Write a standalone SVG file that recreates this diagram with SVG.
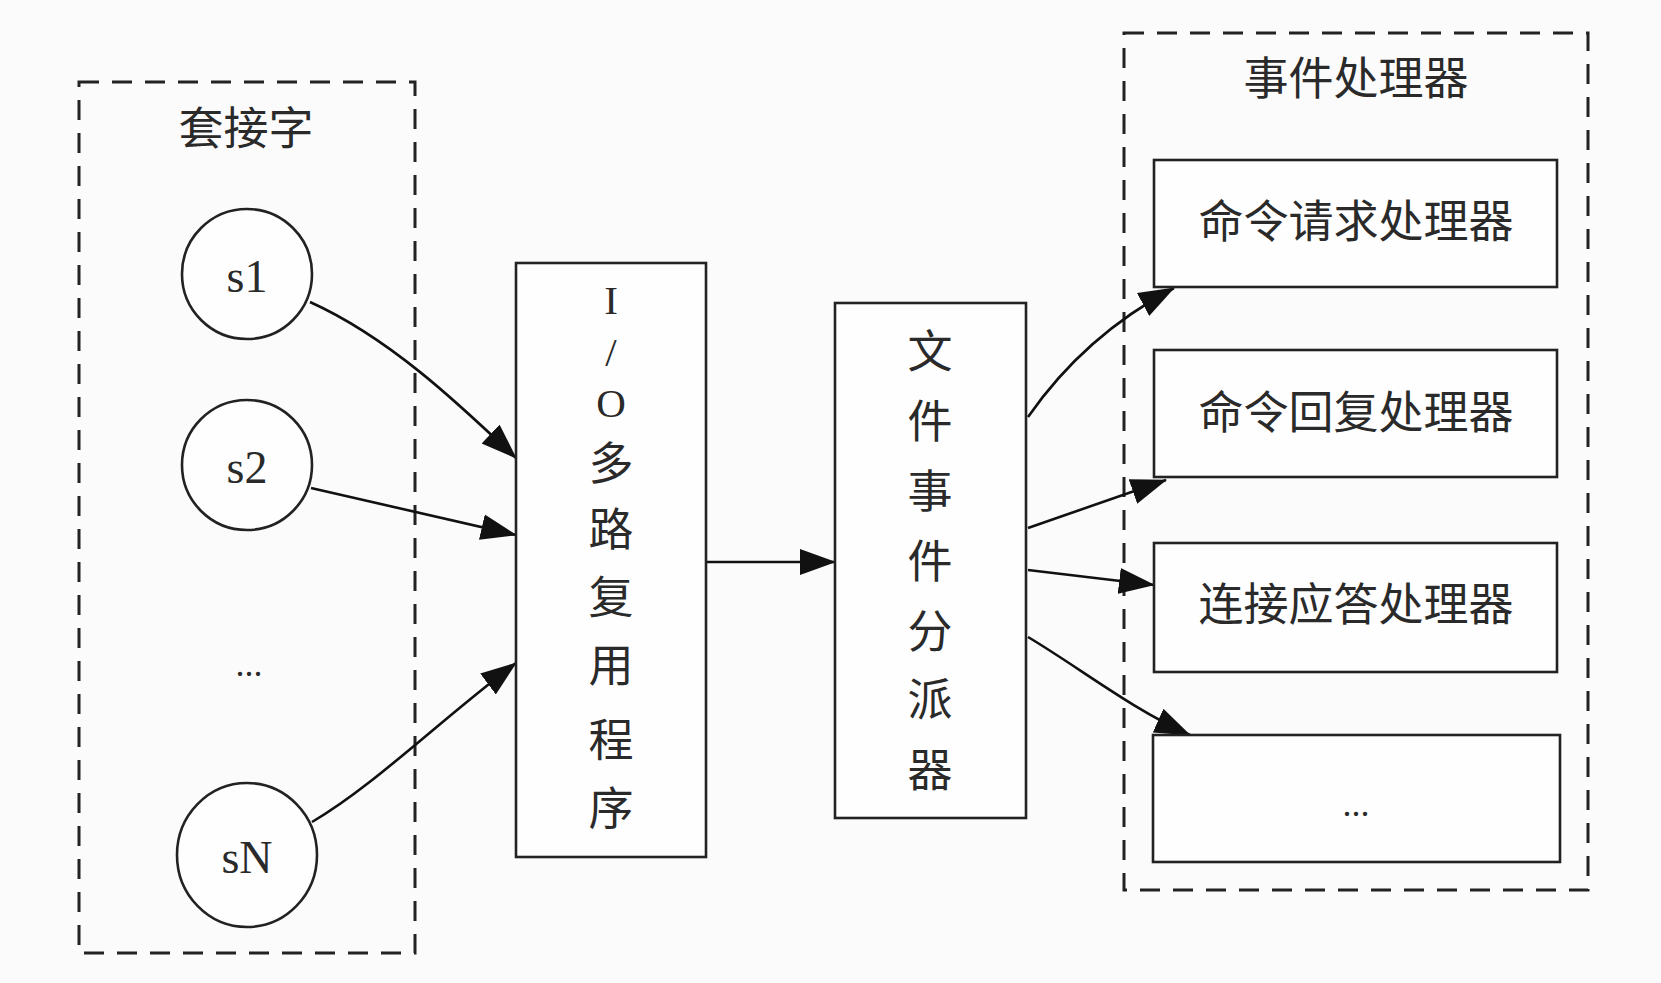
<svg xmlns="http://www.w3.org/2000/svg" width="1661" height="983" viewBox="0 0 1661 983">
<style>
.bg{fill:#fbfbfb}
.cluster{fill:none;stroke:#222;stroke-width:3;stroke-dasharray:20 13}
.node{fill:#fefefe;stroke:#222;stroke-width:2.6}
.edge{fill:none;stroke:#111;stroke-width:2.6}
.cjk{font-family:"Noto Sans CJK SC","Noto Sans CJK TC",sans-serif;font-size:45px;fill:#2a2a2a;text-anchor:middle;dominant-baseline:central}
.lat{font-family:"Liberation Serif",serif;font-size:46px;fill:#2a2a2a;text-anchor:middle;dominant-baseline:central}
.io{font-size:41px}
</style>
<defs>
<marker id="ah" markerUnits="userSpaceOnUse" markerWidth="36" markerHeight="28" refX="35" refY="14" orient="auto">
<polygon points="0,1 36,14 0,27" fill="#111"/>
</marker>
</defs>
<rect class="bg" x="0" y="0" width="1661" height="983"/>

<g id="cluster-sockets">
<rect class="cluster" x="79" y="82" width="336" height="871"/>
<text class="cjk" x="246" y="125">套接字</text>
</g>
<g id="cluster-handlers">
<rect class="cluster" x="1124" y="33" width="464" height="857"/>
<text class="cjk" x="1356" y="75">事件处理器</text>
</g>

<g id="connectors">
<path class="edge" marker-end="url(#ah)" d="M310,302 C390,338 460,405 516,458"/>
<path class="edge" marker-end="url(#ah)" d="M311,488 L516,535"/>
<path class="edge" marker-end="url(#ah)" d="M312,822 C375,785 440,720 516,663"/>
<path class="edge" marker-end="url(#ah)" d="M706,562 L835,562"/>
<path class="edge" marker-end="url(#ah)" d="M1028,417 C1062,368 1110,322 1174,288"/>
<path class="edge" marker-end="url(#ah)" d="M1028,528 L1166,480"/>
<path class="edge" marker-end="url(#ah)" d="M1028,570 L1154,585"/>
<path class="edge" marker-end="url(#ah)" d="M1028,637 C1080,668 1130,708 1190,735"/>
</g>

<g id="node-s1">
<circle class="node" cx="247" cy="274" r="65"/>
<text class="lat" x="247" y="276">s1</text>
</g>
<g id="node-s2">
<circle class="node" cx="247" cy="465" r="65"/>
<text class="lat" x="247" y="467">s2</text>
</g>
<g id="node-dots">
<text class="lat" x="249" y="664" style="font-size:36px">...</text>
</g>
<g id="node-sN">
<ellipse class="node" cx="247" cy="855" rx="70" ry="72"/>
<text class="lat" x="247" y="857">sN</text>
</g>

<g id="node-io">
<rect class="node" x="516" y="263" width="190" height="594"/>
<text class="lat io" x="611" y="300">I</text>
<text class="lat io" x="611" y="352">/</text>
<text class="lat io" x="611" y="403">O</text>
<text class="cjk" x="611" y="460">多</text>
<text class="cjk" x="611" y="526">路</text>
<text class="cjk" x="611" y="594">复</text>
<text class="cjk" x="611" y="662">用</text>
<text class="cjk" x="611" y="737">程</text>
<text class="cjk" x="611" y="805">序</text>
</g>

<g id="node-dispatcher">
<rect class="node" x="835" y="303" width="191" height="515"/>
<text class="cjk" x="930" y="348">文</text>
<text class="cjk" x="930" y="418">件</text>
<text class="cjk" x="930" y="488">事</text>
<text class="cjk" x="930" y="558">件</text>
<text class="cjk" x="930" y="628">分</text>
<text class="cjk" x="930" y="696">派</text>
<text class="cjk" x="930" y="767">器</text>
</g>

<g id="node-request">
<rect class="node" x="1154" y="160" width="403" height="127"/>
<text class="cjk" x="1356" y="218">命令请求处理器</text>
</g>
<g id="node-reply">
<rect class="node" x="1154" y="350" width="403" height="127"/>
<text class="cjk" x="1356" y="409">命令回复处理器</text>
</g>
<g id="node-accept">
<rect class="node" x="1154" y="543" width="403" height="129"/>
<text class="cjk" x="1356" y="601">连接应答处理器</text>
</g>
<g id="node-more">
<rect class="node" x="1153" y="735" width="407" height="127"/>
<text class="lat" x="1356" y="804" style="font-size:36px">...</text>
</g>
</svg>
